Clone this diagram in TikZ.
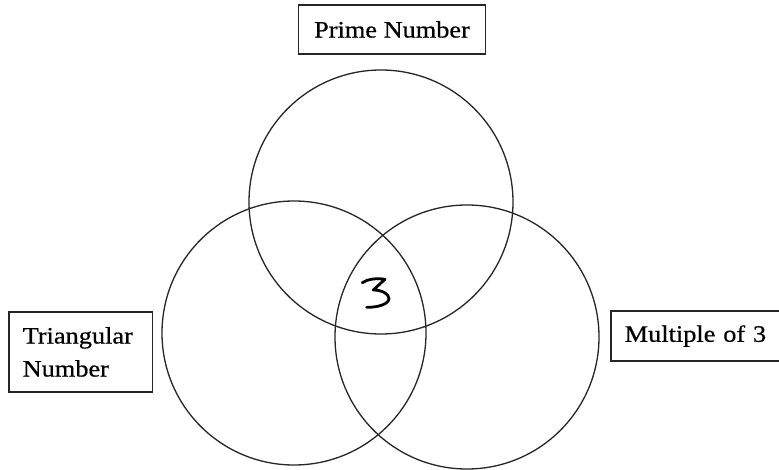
\documentclass[tikz,border=0pt]{standalone}
\usepackage{fontspec}
\setmainfont{Liberation Serif}[FakeStretch=1.12,FakeBold=0.6]
\begin{document}
\begin{tikzpicture}[x=1pt,y=-1pt,
  setcircle/.style={draw=black!85, line width=1.3pt, circle, inner sep=0pt, minimum size=264pt},
  labelbox/.style={draw=black!85, line width=1.5pt, inner ysep=0pt, font=\fontsize{23.5}{33}\selectfont},
  hand/.style={line width=2.8pt, line cap=round, line join=round}]
\useasboundingbox (0,0) rectangle (779,470);
\fill[white] (0,0) rectangle (779,470);
% circles
\node[setcircle] (prime) at (381,202) {};
\node[setcircle] (tri) at (294,333) {};
\node[setcircle] (mult) at (467,337) {};
% labels
\node[labelbox, minimum width=187pt, minimum height=49pt] (primelbl) at (392,29.5) {Prime Number};
\node[labelbox, minimum width=143.5pt, minimum height=80pt, text width=116pt, inner xsep=13.75pt, align=left] (trilbl) at (80.7,352) {Triangular\\Number};
\begin{scope}
\clip (0,0) rectangle (779,470);
\node[labelbox, anchor=west, minimum width=200pt, minimum height=50pt, text width=172pt, inner xsep=13.5pt, align=left] (multlbl) at (610,336) {Multiple of 3};
\end{scope}
% handwritten 3
\draw[hand] (362.3,282.7) .. controls (368,279) and (376,278) .. (385,279.3)
  -- (373.3,290)
  .. controls (382,290) and (389,294) .. (389,298.5)
  .. controls (389,304) and (378,307.5) .. (366.7,307.3);
\end{tikzpicture}
\end{document}
